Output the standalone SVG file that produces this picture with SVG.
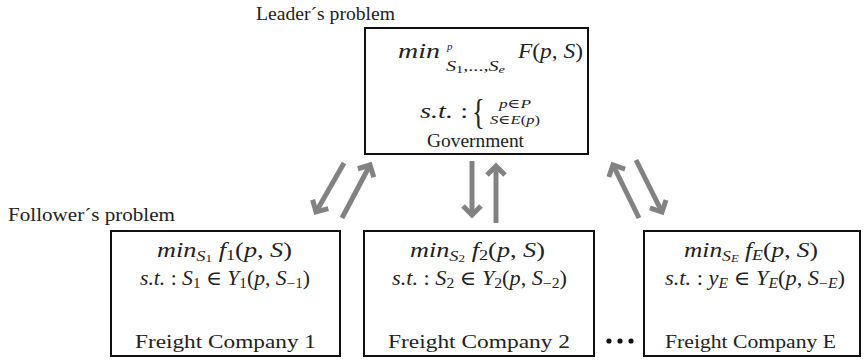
<svg xmlns="http://www.w3.org/2000/svg" width="866" height="362" viewBox="0 0 866 362">
<defs>
<style>
text{font-family:"Liberation Serif","DejaVu Serif","Noto Serif","Times New Roman",Times,Tinos,FreeSerif,serif;fill:#222}
.t{font-size:19px}
.m{font-size:20px}
.i{font-style:italic}
.box{fill:#fff;stroke:#111;stroke-width:2}
.arr{stroke:#828282;stroke-width:5;fill:none;marker-end:url(#ah)}
</style>
<marker id="ah" markerUnits="userSpaceOnUse" markerWidth="40" markerHeight="40" refX="16" refY="15" orient="auto" overflow="visible">
<path d="M7,6 L16,15 L7,24" fill="none" stroke="#828282" stroke-width="5" stroke-linejoin="miter"/>
</marker>
</defs>
<rect width="866" height="362" fill="#fff"/>
<text class="t" x="256" y="20" textLength="139" lengthAdjust="spacingAndGlyphs">Leader´s problem</text>
<text class="t" x="8" y="221" textLength="167" lengthAdjust="spacingAndGlyphs">Follower´s problem</text>

<g id="government">
<rect class="box" x="365" y="28" width="223" height="126"/>
<text x="398" y="58" class="i" font-size="21" textLength="42" lengthAdjust="spacingAndGlyphs">min</text>
<text x="447" y="50" class="i" font-size="11">p</text>
<text x="446" y="71" class="i" font-size="14" textLength="59" lengthAdjust="spacingAndGlyphs">S<tspan font-size="10" dy="2" font-style="normal">1</tspan><tspan dy="-2" font-style="normal">,...,</tspan>S<tspan font-size="10" dy="2">e</tspan></text>
<text x="518" y="58" class="i" font-size="21" textLength="65" lengthAdjust="spacingAndGlyphs">F<tspan font-style="normal">(</tspan>p<tspan font-style="normal">, </tspan>S<tspan font-style="normal">)</tspan></text>
<text x="420" y="118" font-size="20" textLength="48" lengthAdjust="spacingAndGlyphs"><tspan class="i">s.t.</tspan> :</text>
<text x="472" y="124" font-size="38" transform="translate(472 124) scale(0.7 0.95) translate(-472 -124)">{</text>
<text x="499" y="108" font-size="13" textLength="32" lengthAdjust="spacingAndGlyphs"><tspan class="i">p</tspan>∈<tspan class="i">P</tspan></text>
<text x="490" y="124" font-size="13" textLength="50" lengthAdjust="spacingAndGlyphs"><tspan class="i">S</tspan>∈<tspan class="i">E</tspan>(<tspan class="i">p</tspan>)</text>
<text class="t" x="427" y="147" textLength="97" lengthAdjust="spacingAndGlyphs">Government</text>
</g>

<g id="company1">
<rect class="box" x="111" y="231" width="229" height="125"/>
<text class="m" x="157" y="257" textLength="135" lengthAdjust="spacingAndGlyphs"><tspan class="i">min</tspan><tspan class="i" font-size="14" dy="4">S</tspan><tspan font-size="10" dy="1">1</tspan><tspan class="i" dy="-5"> f</tspan><tspan font-size="14" dy="3">1</tspan><tspan dy="-3">(</tspan><tspan class="i">p</tspan>, <tspan class="i">S</tspan>)</text>
<text class="m" x="140" y="285" textLength="170" lengthAdjust="spacingAndGlyphs"><tspan class="i">s.t.</tspan> : <tspan class="i">S</tspan><tspan font-size="14" dy="3">1</tspan><tspan dy="-3"> ∈ </tspan><tspan class="i">Y</tspan><tspan font-size="14" dy="3">1</tspan><tspan dy="-3">(</tspan><tspan class="i">p</tspan>, <tspan class="i">S</tspan><tspan font-size="14" dy="3">−1</tspan><tspan dy="-3">)</tspan></text>
<text class="t" x="135" y="348" textLength="181" lengthAdjust="spacingAndGlyphs">Freight Company 1</text>
</g>

<g id="company2">
<rect class="box" x="364" y="231" width="230" height="125"/>
<text class="m" x="410" y="257" textLength="135" lengthAdjust="spacingAndGlyphs"><tspan class="i">min</tspan><tspan class="i" font-size="14" dy="4">S</tspan><tspan font-size="10" dy="1">2</tspan><tspan class="i" dy="-5"> f</tspan><tspan font-size="14" dy="3">2</tspan><tspan dy="-3">(</tspan><tspan class="i">p</tspan>, <tspan class="i">S</tspan>)</text>
<text class="m" x="392" y="285" textLength="175" lengthAdjust="spacingAndGlyphs"><tspan class="i">s.t.</tspan> : <tspan class="i">S</tspan><tspan font-size="14" dy="3">2</tspan><tspan dy="-3"> ∈ </tspan><tspan class="i">Y</tspan><tspan font-size="14" dy="3">2</tspan><tspan dy="-3">(</tspan><tspan class="i">p</tspan>, <tspan class="i">S</tspan><tspan font-size="14" dy="3">−2</tspan><tspan dy="-3">)</tspan></text>
<text class="t" x="388" y="348" textLength="182" lengthAdjust="spacingAndGlyphs">Freight Company 2</text>
</g>

<g id="companyE">
<rect class="box" x="644" y="231" width="216" height="125"/>
<text class="m" x="684" y="257" textLength="134" lengthAdjust="spacingAndGlyphs"><tspan class="i">min</tspan><tspan class="i" font-size="14" dy="4">S</tspan><tspan class="i" font-size="10" dy="1">E</tspan><tspan class="i" dy="-5"> f</tspan><tspan class="i" font-size="14" dy="3">E</tspan><tspan dy="-3">(</tspan><tspan class="i">p</tspan>, <tspan class="i">S</tspan>)</text>
<text class="m" x="665" y="285" textLength="180" lengthAdjust="spacingAndGlyphs"><tspan class="i">s.t.</tspan> : <tspan class="i">y</tspan><tspan class="i" font-size="14" dy="3">E</tspan><tspan dy="-3"> ∈ </tspan><tspan class="i">Y</tspan><tspan class="i" font-size="14" dy="3">E</tspan><tspan dy="-3">(</tspan><tspan class="i">p</tspan>, <tspan class="i">S</tspan><tspan font-size="14" dy="3">−<tspan class="i">E</tspan></tspan><tspan dy="-3">)</tspan></text>
<text class="t" x="665" y="348" textLength="171" lengthAdjust="spacingAndGlyphs">Freight Company E</text>
</g>

<g id="dots" fill="#111">
<circle cx="609" cy="341" r="2.6"/>
<circle cx="620" cy="341" r="2.6"/>
<circle cx="631" cy="341" r="2.6"/>
</g>

<g id="connectors">
<line class="arr" x1="344" y1="163" x2="316" y2="212"/>
<line class="arr" x1="342" y1="218" x2="370" y2="165"/>
<line class="arr" x1="472" y1="161" x2="472" y2="215"/>
<line class="arr" x1="496" y1="223" x2="496" y2="166"/>
<line class="arr" x1="639" y1="218" x2="613" y2="165"/>
<line class="arr" x1="636" y1="160" x2="662" y2="212"/>
</g>
</svg>
